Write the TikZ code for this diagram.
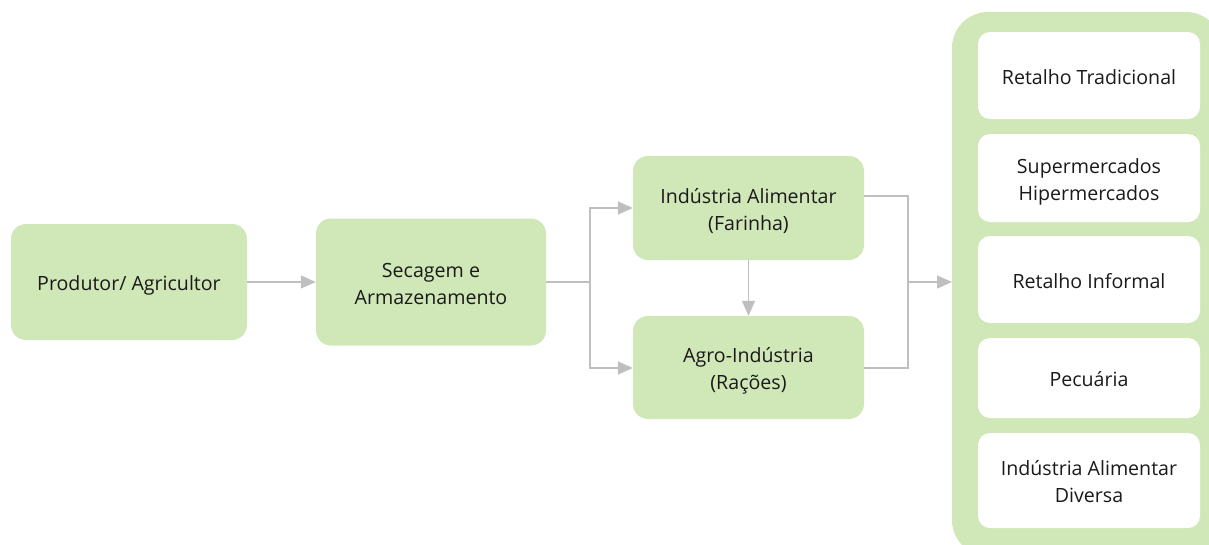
\documentclass[tikz,border=0pt]{standalone}
\usepackage{fontspec}
\setmainfont{Open Sans}
\usetikzlibrary{arrows.meta}
\definecolor{boxgreen}{HTML}{D0E7B7}
\definecolor{linegray}{HTML}{BFBFBF}
\definecolor{txt}{HTML}{1A1A1A}
\newcommand\boxtext[1]{\raisebox{-3.5pt}[\height][\depth]{\begin{tabular}{@{}c@{}}#1\end{tabular}}}
\tikzset{
  greenbox/.style={fill=boxgreen, draw=none, rounded corners=15pt, text=txt, font=\fontsize{19.6}{27}\selectfont, inner sep=0pt},
  whitebox/.style={fill=white, draw=none, rounded corners=12pt, text=txt, font=\fontsize{19.6}{27}\selectfont, inner sep=0pt, minimum width=222pt},
  conn/.style={draw=linegray, line width=1.2pt},
  arr/.style={conn, -{Triangle[length=15pt,width=13pt]}},
}
\begin{document}
\begin{tikzpicture}[x=1pt,y=-1pt]
\useasboundingbox (0,0) rectangle (1209,544);
% panel
\begin{scope}
\clip (0,0) rectangle (1209,544);
\fill[boxgreen, rounded corners=36pt] (952,12) rectangle (1222,556);
\end{scope}
% nodes
\node[greenbox, minimum width=236pt, minimum height=116pt] (prod) at (129,282) {\boxtext{Produtor/ Agricultor}};
\node[greenbox, minimum width=230pt, minimum height=127pt] (sec) at (431,282) {\boxtext{Secagem e\\Armazenamento}};
\node[greenbox, minimum width=231pt, minimum height=104pt] (ind) at (748.5,208) {\boxtext{Indústria Alimentar\\(Farinha)}};
\node[greenbox, minimum width=231pt, minimum height=103pt] (agro) at (748.5,367.5) {\boxtext{Agro-Indústria\\(Rações)}};
\node[whitebox, minimum height=87pt] (r1) at (1089,75.5) {\boxtext{Retalho Tradicional}};
\node[whitebox, minimum height=88pt] (r2) at (1089,178) {\boxtext{Supermercados\\Hipermercados}};
\node[whitebox, minimum height=87pt] (r3) at (1089,279.5) {\boxtext{Retalho Informal}};
\node[whitebox, minimum height=80pt] (r4) at (1089,378) {\boxtext{Pecuária}};
\node[whitebox, minimum height=95pt] (r5) at (1089,480.5) {\boxtext{Indústria Alimentar\\Diversa}};
\coordinate (panel) at (952,282);
% connectors
\draw[arr] (prod.east) -- (sec.west);
\coordinate (split) at (590,282);
\draw[conn] (sec.east) -- (split);
\draw[arr] (split) |- (ind.west);
\draw[arr] (split) |- (agro.west |- 0,368);
\draw[arr] (ind.south) -- (agro.north);
\coordinate (join) at (908,282);
\draw[conn] (ind.east |- 0,196) -| (join) |- (agro.east |- 0,368);
\draw[arr] (join) -- (panel);
\end{tikzpicture}
\end{document}
